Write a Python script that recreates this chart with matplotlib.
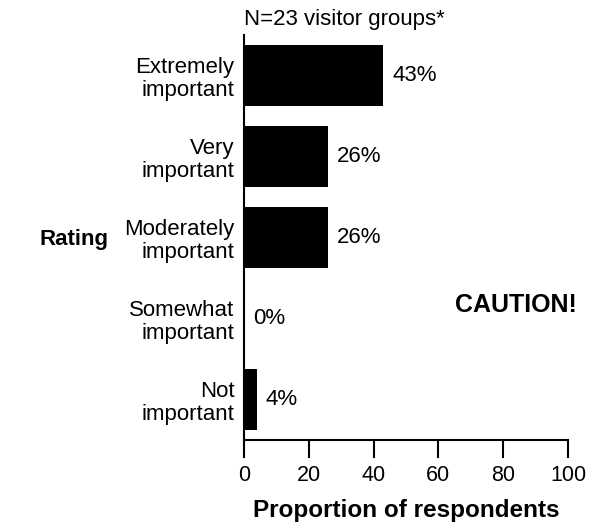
import matplotlib
matplotlib.use("Agg")
import matplotlib.pyplot as plt

plt.rcParams['font.family'] = ['Liberation Sans', 'DejaVu Sans']

# data, bottom to top
ratings = ["Not\nimportant", "Somewhat\nimportant", "Moderately\nimportant",
           "Very\nimportant", "Extremely\nimportant"]
percents = [4, 0, 26, 26, 43]
xticks = [0, 20, 40, 60, 80, 100]

fig = plt.figure(figsize=(5.97, 5.27), dpi=100)
ax = fig.add_axes([244 / 597, 1 - 440 / 527, 324 / 597, 405 / 527])

ypos = list(range(len(ratings)))
ax.barh(ypos, percents, height=0.765, color='black')

for y, v in zip(ypos, percents):
    ax.annotate(f"{v}%", xy=(v, y), xytext=(9, 0), textcoords='offset pixels',
                va='center', ha='left', fontsize=16)

ax.set_xlim(0, 100)
ax.set_ylim(-0.5, 4.5)
ax.set_xticks(xticks)
ax.set_xticklabels([str(t) for t in xticks], fontsize=15.5)
ax.set_yticks(ypos)
ax.set_yticklabels(ratings, fontsize=16, linespacing=1.15)
ax.tick_params(axis='y', length=0, pad=7)
ax.tick_params(axis='x', length=13, width=1.5, pad=5)

for s in ['top', 'right']:
    ax.spines[s].set_visible(False)
for s in ['left', 'bottom']:
    ax.spines[s].set_linewidth(1.5)

ax.set_xlabel("Proportion of respondents", fontsize=17.5, fontweight='bold', labelpad=9)

fig.text(244 / 597, 1 - 20 / 527, "N=23 visitor groups*", fontsize=16,
         ha='left', va='center')
fig.text(74 / 597, 1 - 240 / 527, "Rating", fontsize=16, fontweight='bold',
         ha='center', va='center')
fig.text(577 / 597, 1 - 305 / 527, "CAUTION!", fontsize=18, fontweight='bold',
         ha='right', va='center')

fig.savefig("out.png", dpi=100)
